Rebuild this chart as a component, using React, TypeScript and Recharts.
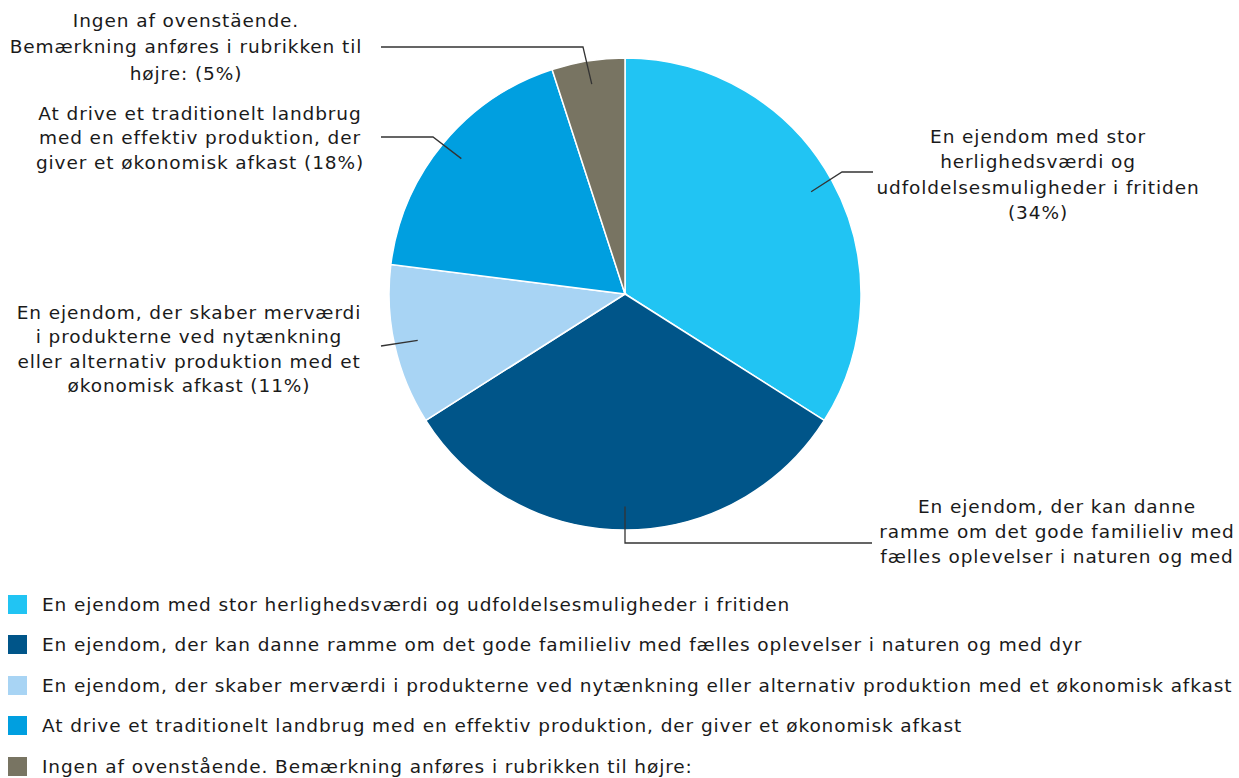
import { Pie, PieChart, Cell } from "recharts";

const names = [
  "En ejendom med stor herlighedsværdi og udfoldelsesmuligheder i fritiden",
  "En ejendom, der kan danne ramme om det gode familieliv med fælles oplevelser i naturen og med dyr",
  "En ejendom, der skaber merværdi i produkterne ved nytænkning eller alternativ produktion med et økonomisk afkast",
  "At drive et traditionelt landbrug med en effektiv produktion, der giver et økonomisk afkast",
  "Ingen af ovenstående. Bemærkning anføres i rubrikken til højre:",
];
const values = [34, 32, 11, 18, 5];
const colors = ["#21c4f3", "#005589", "#a8d4f4", "#009fe0", "#787462"];

// label text as wrapped in the picture
const labelLines = [
  ["En ejendom med stor", "herlighedsværdi og", "udfoldelsesmuligheder i fritiden", "(34%)"],
  ["En ejendom, der kan danne", "ramme om det gode familieliv med", "fælles oplevelser i naturen og med"],
  ["En ejendom, der skaber merværdi", "i produkterne ved nytænkning", "eller alternativ produktion med et", "økonomisk afkast (11%)"],
  ["At drive et traditionelt landbrug", "med en effektiv produktion, der", "giver et økonomisk afkast (18%)"],
  ["Ingen af ovenstäende.", "Bemærkning anføres i rubrikken til", "højre: (5%)"],
];

const data = names.map((name, i) => ({ name, value: values[i] }));

const FONT = "'DejaVu Sans', Verdana, sans-serif";
const FS = 18.5;
const LS = 0.9;
const CX = 625;
const CY = 294;
const R = 236;
const RAD = Math.PI / 180;

// leader elbow / end and text block placement per slice
const layout = [
  { elbow: [842, 172], end: [873, 172], tx: 1038, ty: 136, lh: 25.5 },
  { elbow: [625, 543], end: [872, 543], tx: 1057, ty: 506, lh: 25 },
  { elbow: null, end: [381, 346], tx: 189, ty: 312, lh: 24.5 },
  { elbow: [433, 137], end: [381, 137], tx: 200, ty: 113, lh: 24.5 },
  { elbow: [583, 47], end: [381, 47], tx: 186, ty: 20, lh: 26.5 },
];

function renderLabel(props: any) {
  const { cx, cy, midAngle, outerRadius, index } = props;
  const r = outerRadius * 0.9;
  const sx = cx + r * Math.cos(-midAngle * RAD);
  const sy = cy + r * Math.sin(-midAngle * RAD);
  const l = layout[index];
  const pts = [[sx, sy]];
  if (l.elbow) pts.push(l.elbow);
  pts.push(l.end);
  return (
    <g key={"lbl" + index}>
      <polyline
        points={pts.map((p) => p.join(",")).join(" ")}
        fill="none"
        stroke="#333"
        strokeWidth={1.3}
      />
      {labelLines[index].map((t, k) => (
        <text
          key={k}
          x={l.tx}
          y={l.ty + k * l.lh}
          textAnchor="middle"
          dominantBaseline="central"
          fontFamily={FONT}
          fontSize={FS}
          letterSpacing={LS}
          fill="#1a1a1a"
        >
          {t}
        </text>
      ))}
    </g>
  );
}

export default function App() {
  return (
    <div
      style={{
        position: "absolute",
        left: 0,
        top: 0,
        width: 1239,
        height: 778,
        background: "#fff",
        overflow: "hidden",
      }}
    >
      <PieChart
        width={1239}
        height={575}
        margin={{ top: 0, right: 0, bottom: 0, left: 0 }}
        style={{ position: "absolute", left: 0, top: 0 }}
      >
        <Pie
          data={data}
          dataKey="value"
          nameKey="name"
          cx={CX}
          cy={CY}
          outerRadius={R}
          startAngle={90}
          endAngle={-270}
          stroke="#fff"
          strokeWidth={1.5}
          label={renderLabel}
          labelLine={false}
          isAnimationActive={false}
        >
          {data.map((d, i) => (
            <Cell key={d.name} fill={colors[i]} />
          ))}
        </Pie>
      </PieChart>
      <div
        style={{
          position: "absolute",
          left: 8,
          top: 584,
          fontFamily: FONT,
          fontSize: FS,
          letterSpacing: LS,
          color: "#1a1a1a",
        }}
      >
        {names.map((n, i) => (
          <div key={n} style={{ display: "flex", alignItems: "center", height: 40.5 }}>
            <span style={{ width: 19, height: 19, background: colors[i], marginRight: 15, flexShrink: 0 }} />
            <span style={{ whiteSpace: "nowrap" }}>{n}</span>
          </div>
        ))}
      </div>
    </div>
  );
}
